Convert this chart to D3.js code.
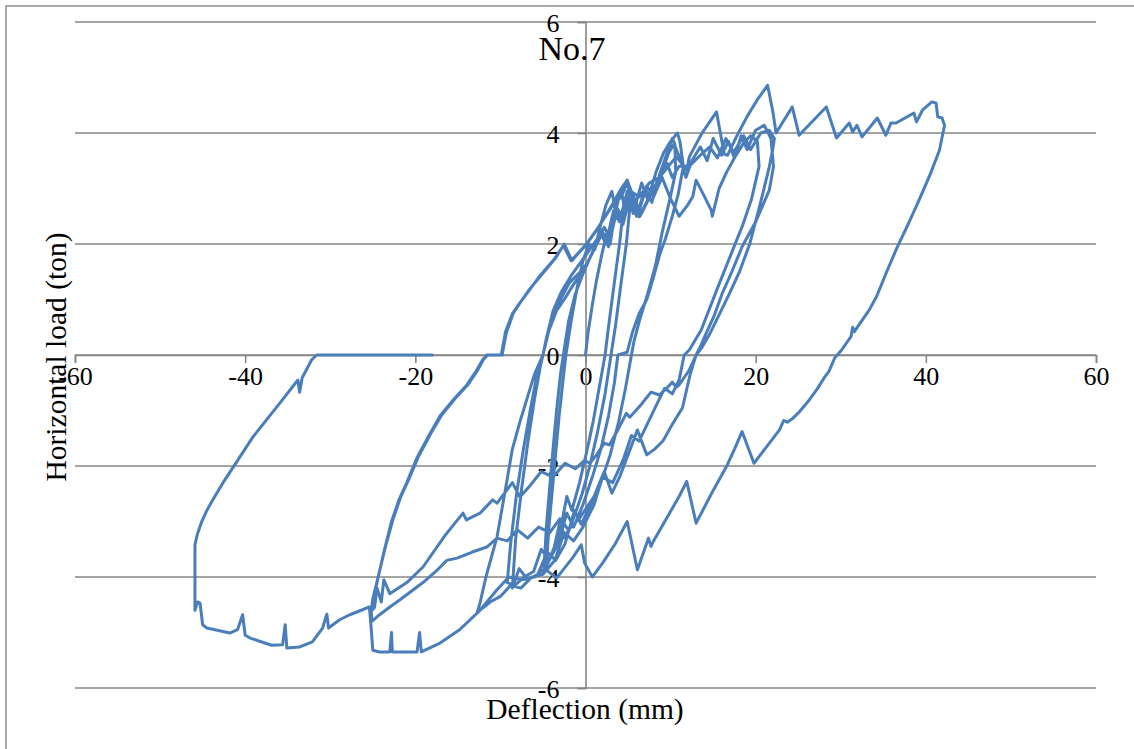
<!DOCTYPE html>
<html>
<head>
<meta charset="utf-8">
<script src="https://cdn.jsdelivr.net/npm/d3@7"></script>
<style>
  html, body { margin: 0; padding: 0; background: #ffffff; }
  svg { display: block; }
</style>
</head>
<body>
<svg id="chart" width="1134" height="749"></svg>
<script>
// ---- chart texts & ticks ----
const chartTitle = "No.7";
const xTitle = "Deflection (mm)";
const yTitle = "Horizontal load (ton)";
const xTicks = [-60, -40, -20, 0, 20, 40, 60];
const yTicks = [-6, -4, -2, 0, 2, 4, 6];

// ---- measured load path, [deflection mm, load ton], in loading order ----
const cycle1 = [ // about +/-5 mm
  [0,0],[0.3,0.4],[0.8,0.9],[1.3,1.35],[1.9,1.8],[2.5,2.2],[2.9,2.0],[3.4,2.5],[4.2,3.0],[4.5,2.7],
  [4.0,2.0],[3.3,1.2],[2.7,0.5],[2.3,0],[1.6,-0.6],[0.9,-1.2],[0.2,-1.7],[-0.7,-2.3],[-1.6,-2.8],
  [-2.2,-2.55],[-3.0,-3.2],[-3.9,-3.55],[-4.6,-3.8],[-4.3,-3.1],[-3.7,-2.1],[-3.1,-1.1],[-2.6,-0.4],
  [-2.3,0],[-1.7,0.6],[-1.0,1.2],[-0.3,1.7],[0.4,2.0],[1.1,1.9],[1.7,2.3],[2.4,2.7],[3.1,2.95],
  [3.5,2.6],[4.1,2.95],[4.9,3.15],[5.3,2.8],[4.8,2.0],[4.1,1.2],[3.5,0.5],[3.0,0],[2.3,-0.7],
  [1.4,-1.4],[0.5,-2.0],[-0.4,-2.5],[-1.3,-2.9],[-2.4,-3.3],[-3.0,-3.0],[-3.8,-3.55],[-4.9,-3.9],
  [-4.6,-3.1],[-4.0,-2.0],[-3.4,-1.0],[-2.9,-0.3],[-2.6,0]
];
const cycle2 = [ // about +/-10 mm
  [-2.0,0.6],[-1.2,1.1],[-0.2,1.5],[0.8,1.85],[1.8,2.2],[2.4,2.0],[3.3,2.6],[4.0,2.4],[4.9,2.95],
  [5.6,2.55],[6.6,3.1],[7.3,2.8],[8.3,3.3],[9.2,3.65],[10.0,3.85],[10.8,4.0],[11.1,3.85],[11.5,3.4],
  [10.9,2.9],[10.2,2.5],[9.4,2.1],[8.7,1.8],[7.9,1.35],[7.2,1.0],[6.3,0.75],[5.5,0.4],[4.9,0.05],
  [3.8,0],[3.4,-0.5],[2.7,-1.1],[1.8,-1.7],[0.8,-2.2],[-0.3,-2.7],[-1.4,-3.1],[-2.2,-2.85],
  [-3.2,-3.4],[-4.3,-3.7],[-5.2,-3.5],[-6.1,-3.9],[-7.2,-4.0],[-8.3,-4.15],[-9.2,-4.1],[-8.8,-3.4],
  [-8.1,-2.5],[-7.3,-1.7],[-6.5,-1.0],[-5.7,-0.35],[-5.0,0],[-4.2,0.5],[-3.1,0.95],[-1.9,1.3],
  [-0.6,1.5],[0.2,1.65],[1.0,1.9],[2.0,2.2],[2.7,1.95],[3.6,2.55],[4.4,2.35],[5.3,2.9],[6.0,2.5],
  [7.0,3.0],[7.8,2.75],[8.7,3.25],[9.5,3.6],[10.2,3.9],[10.5,3.8],[10.6,3.3],[9.9,2.8],[9.0,2.2],
  [8.2,1.6],[7.3,1.1],[6.4,0.65],[5.7,0.25],[5.4,0],[4.7,-0.6],[3.9,-1.2],[2.9,-1.8],[1.8,-2.3],
  [0.6,-2.7],[-0.5,-3.05],[-1.3,-2.8],[-2.4,-3.4],[-3.5,-3.7],[-4.5,-3.55],[-5.6,-3.95],
  [-6.8,-4.05],[-7.8,-3.85],[-8.6,-4.2],[-8.2,-3.3],[-7.5,-2.4],[-6.8,-1.6],[-6.0,-0.8],
  [-5.3,-0.2],[-5.0,0]
];
const cycle3 = [ // +20 / -13 mm
  [-4.4,0.4],[-3.4,0.8],[-2.5,1.0],[-1.5,1.25],[0.1,1.6],[0.8,1.85],[1.9,2.25],[2.6,2.05],
  [3.6,2.65],[4.4,2.4],[5.4,2.9],[6.2,2.55],[7.2,3.05],[8.0,2.85],[9.0,3.2],[9.9,2.85],[11.0,2.5],
  [12.0,2.7],[12.6,2.85],[13.0,3.15],[14.0,2.85],[14.8,2.6],[14.9,2.5],[15.7,3.0],[16.6,3.3],
  [17.5,3.55],[18.5,3.8],[19.4,3.95],[20.2,3.85],[20.4,3.4],[19.5,2.8],[18.5,2.35],[17.3,1.89],
  [15.5,1.2],[13.6,0.45],[12.2,0.09],[11.6,0],[11.0,-0.45],[10.2,-0.7],[9.3,-0.6],[8.5,-0.85],
  [7.4,-1.2],[6.3,-1.55],[5.4,-1.45],[4.4,-1.9],[3.2,-2.3],[2.0,-2.2],[1.0,-2.7],[-0.3,-3.1],
  [-1.4,-3.35],[-2.5,-3.2],[-3.6,-3.7],[-5.0,-3.95],[-6.3,-4.0],[-7.6,-4.2],[-8.8,-4.15],
  [-10.0,-4.35],[-11.2,-4.45],[-12.0,-4.55],[-12.7,-4.62],[-12.4,-4.47],[-11.7,-4.0],
  [-10.9,-3.55],[-10.4,-3.28],[-9.5,-2.5],[-8.6,-1.7],[-7.7,-1.2],[-6.9,-0.8],[-6.0,-0.35],[-5.0,0]
];
const cycle4 = [ // +22 / -25 mm, first
  [-4.6,0.3],[-3.8,0.8],[-2.8,1.15],[-1.6,1.45],[-0.2,1.75],[1.2,2.05],[2.2,2.3],[2.8,2.15],
  [3.7,2.65],[4.3,2.5],[5.3,2.95],[6.3,2.85],[7.5,3.1],[8.7,3.2],[9.6,3.45],[10.2,3.2],[11.0,3.4],
  [12.2,3.4],[13.5,3.6],[14.6,3.75],[15.5,3.55],[16.5,3.9],[17.4,3.65],[18.6,3.95],[19.4,3.7],
  [20.6,4.0],[21.6,4.05],[22.2,3.9],[22.0,3.7],[21.6,3.39],[20.5,2.7],[19.3,2.0],[18.1,1.5],
  [16.9,1.1],[15.4,0.63],[14.5,0.35],[13.7,0.14],[13.0,0],[12.3,-0.35],[11.4,-0.95],[10.2,-1.25],
  [9.1,-1.55],[8.1,-1.7],[7.2,-1.8],[6.1,-1.35],[5.0,-1.8],[4.0,-2.2],[3.1,-2.49],[2.2,-2.1],
  [1.0,-2.55],[-0.7,-2.94],[-2.0,-3.15],[-3.0,-2.95],[-4.2,-3.2],[-5.5,-3.1],[-6.8,-3.3],
  [-8.0,-3.15],[-9.2,-3.35],[-10.4,-3.3],[-11.6,-3.46],[-13.3,-3.55],[-15.1,-3.66],[-16.3,-3.7],
  [-17.6,-3.9],[-19.1,-4.1],[-21.8,-4.41],[-23.0,-4.54],[-24.2,-4.68],[-25.1,-4.8],[-25.2,-4.6],
  [-24.5,-4.1],[-23.7,-3.55],[-22.8,-3.0],[-21.9,-2.6],[-21.0,-2.3],[-19.8,-1.85],[-18.4,-1.45],
  [-17.1,-1.1],[-15.5,-0.8],[-14.0,-0.55],[-12.9,-0.3],[-12.1,-0.09],[-11.6,0],[-9.8,0]
];
const cycle5 = [ // +22 / -25 mm, second
  [-9.3,0.4],[-8.5,0.75],[-7.7,0.94],[-6.5,1.2],[-5.4,1.4],[-3.5,1.75],[-2.5,2.0],[-1.6,1.7],
  [0.1,2.0],[1.5,2.3],[3.2,2.7],[4.2,2.85],[4.9,3.1],[6.0,2.74],[6.3,2.49],[7.9,2.97],[8.7,3.2],
  [9.8,3.65],[10.4,3.8],[11.1,3.55],[11.8,3.2],[12.5,3.5],[13.5,3.75],[14.3,3.5],[15.0,3.9],
  [16.0,3.6],[16.8,3.85],[17.5,3.55],[18.3,3.95],[19.0,3.7],[20.0,4.05],[21.0,4.14],[21.8,3.9],
  [22.1,3.4],[21.6,2.97],[20.0,2.4],[18.4,1.95],[17.2,1.5],[16.1,1.12],[15.1,0.7],[14.2,0.4],
  [13.5,0.15],[13.0,0],[12.2,-0.27],[11.0,-0.54],[10.7,-0.58],[10.2,-0.49],[9.6,-0.59],
  [8.7,-0.72],[7.7,-0.67],[6.5,-0.9],[5.2,-1.12],[4.8,-1.05],[3.8,-1.35],[2.8,-1.62],[2.2,-1.59],
  [1.3,-1.8],[0.5,-1.95],[-0.1,-1.9],[-1.2,-2.05],[-2.4,-1.95],[-3.8,-2.2],[-5.2,-2.1],
  [-6.5,-2.35],[-7.7,-2.56],[-8.6,-2.3],[-10.4,-2.67],[-10.9,-2.61],[-12.4,-2.85],[-14.0,-2.97],
  [-14.4,-2.85],[-16.5,-3.25],[-19.1,-3.82],[-21.0,-4.1],[-23.0,-4.3],[-23.7,-4.05],[-24.0,-4.45],
  [-24.5,-4.2],[-24.8,-4.55],[-25.2,-4.62],[-25.0,-4.4],[-24.3,-3.95],[-23.5,-3.45],[-22.6,-2.95],
  [-21.7,-2.55],[-20.8,-2.25],[-19.6,-1.82],[-18.2,-1.42],[-16.9,-1.08],[-15.3,-0.78],
  [-13.8,-0.53],[-12.7,-0.28],[-12.0,-0.08],[-11.5,0],[-9.9,0]
];
const cycle6 = [ // final, +42 / -46 mm
  [-9.4,0.42],[-8.6,0.74],[-7.8,0.92],[-6.6,1.17],[-5.5,1.4],[-3.6,1.74],[-2.6,1.97],[-1.7,1.7],
  [0.0,1.97],[1.4,2.27],[3.0,2.67],[4.2,3.0],[4.9,3.15],[6.0,2.7],[6.4,2.5],[7.9,2.95],[8.7,3.2],
  [10.0,3.45],[10.7,3.57],[11.9,3.33],[12.2,3.57],[13.0,3.8],[13.7,4.0],[14.6,4.2],[15.4,4.38],
  [16.3,3.62],[16.7,3.6],[17.8,3.95],[19.0,4.3],[20.2,4.6],[21.4,4.86],[22.0,4.4],[22.4,4.0],
  [22.8,4.1],[24.3,4.47],[25.1,3.96],[28.3,4.47],[29.5,3.91],[31.0,4.18],[31.4,4.02],[31.9,4.14],
  [32.5,3.93],[34.3,4.27],[35.3,3.96],[35.9,4.18],[36.5,4.18],[38.6,4.36],[38.9,4.2],[39.6,4.41],
  [40.7,4.56],[41.2,4.54],[41.4,4.29],[41.9,4.27],[42.2,4.14],[41.6,3.69],[40.5,3.25],[39.2,2.79],
  [37.9,2.35],[36.6,1.93],[35.4,1.5],[34.2,1.05],[33.3,0.8],[32.4,0.6],[31.6,0.42],[31.4,0.5],
  [31.2,0.33],[30.6,0.2],[30.1,0.09],[29.6,0],[29.3,-0.05],[28.6,-0.3],[28.1,-0.4],[27.2,-0.62],
  [26.3,-0.81],[25.1,-1.03],[24.3,-1.15],[23.7,-1.21],[23.3,-1.18],[22.8,-1.35],[21.3,-1.65],
  [19.8,-1.95],[18.4,-1.38],[17.5,-1.7],[16.6,-2.0],[14.8,-2.5],[13.0,-3.03],[11.9,-2.28],
  [11.0,-2.55],[9.5,-2.95],[8.0,-3.35],[7.7,-3.45],[7.4,-3.3],[6.1,-3.87],[4.9,-3.0],[3.5,-3.4],
  [2.0,-3.75],[0.8,-4.0],[-0.1,-3.75],[-0.5,-3.42],[-1.5,-3.65],[-3.4,-4.02],[-4.8,-3.85],
  [-6.0,-4.0],[-7.5,-4.05],[-9.0,-4.0],[-10.4,-4.23],[-12.4,-4.6],[-14.8,-4.95],[-17.1,-5.19],
  [-19.3,-5.35],[-19.5,-5.0],[-19.8,-5.35],[-22.7,-5.35],[-22.8,-5.0],[-23.0,-5.35],[-24.2,-5.35],
  [-25.0,-5.32],[-25.2,-4.9],[-25.4,-4.54],[-26.2,-4.59],[-27.7,-4.68],[-28.9,-4.77],[-30.2,-4.92],
  [-30.4,-4.67],[-30.9,-4.92],[-32.1,-5.17],[-33.6,-5.26],[-35.1,-5.28],[-35.3,-4.86],[-35.6,-5.22],
  [-36.9,-5.23],[-39.4,-5.1],[-40.0,-5.05],[-40.3,-4.68],[-40.9,-4.95],[-41.8,-5.01],[-44.5,-4.92],
  [-45.0,-4.86],[-45.3,-4.47],[-45.6,-4.45],[-45.9,-4.6],[-45.9,-3.42],[-45.6,-3.22],[-45.1,-3.0],
  [-44.5,-2.8],[-43.8,-2.61],[-42.6,-2.3],[-41.4,-2.02],[-39.1,-1.48],[-36.3,-0.94],[-33.8,-0.45],
  [-33.6,-0.67],[-33.3,-0.41],[-32.2,-0.09],[-31.6,0],[-21.8,0],[-18.0,0]
];

const loadPath = [].concat(cycle1, cycle2, cycle3, cycle4, cycle5, cycle6);

// ---- drawing ----
const serif = "'Liberation Serif', 'Times New Roman', 'DejaVu Serif', serif";
const svg = d3.select("#chart");
const W = 1134, H = 749;
svg.append("rect").attr("width", W).attr("height", H).attr("fill", "#fff");
svg.append("rect").attr("x", 6).attr("y", 6).attr("width", W + 20).attr("height", H + 20)
  .attr("fill", "none").attr("stroke", "#8c8c8c").attr("stroke-width", 1.5);

const x = d3.scaleLinear().domain([-60, 60]).range([75, 1096]);
const y = d3.scaleLinear().domain([-6, 6]).range([688, 22]);
const gridColor = "#868686";

// horizontal gridlines
svg.append("g").selectAll("line").data(yTicks).join("line")
  .attr("x1", x(-60)).attr("x2", x(60))
  .attr("y1", d => y(d)).attr("y2", d => y(d))
  .attr("stroke", gridColor).attr("stroke-width", 1.6);

const fmt = d => d < 0 ? "-" + Math.abs(d) : String(d);

// x axis (at load = 0)
const xAxis = d3.axisBottom(x).tickValues(xTicks).tickSize(8).tickPadding(10).tickFormat(fmt);
const gx = svg.append("g").attr("transform", `translate(0,${y(0)})`).call(xAxis);
gx.select(".domain").attr("stroke", gridColor).attr("stroke-width", 1.6);
gx.selectAll(".tick line").attr("stroke", gridColor).attr("stroke-width", 1.6);
gx.selectAll(".tick text").style("font-family", serif).style("font-size", "26px")
  .attr("fill", "#000").attr("dy", "0.45em");

// y axis (at deflection = 0)
const yAxis = d3.axisLeft(y).tickValues(yTicks).tickSize(8).tickPadding(18).tickFormat(fmt);
const gy = svg.append("g").attr("transform", `translate(${x(0)},0)`).call(yAxis);
gy.select(".domain").attr("stroke", gridColor).attr("stroke-width", 1.6);
gy.selectAll(".tick line").attr("stroke", gridColor).attr("stroke-width", 1.6);
gy.selectAll(".tick text").style("font-family", serif).style("font-size", "26px")
  .attr("fill", "#000").attr("dy", "0.38em");

// data line
const line = d3.line().x(d => x(d[0])).y(d => y(d[1]));
svg.append("path").datum(loadPath)
  .attr("d", line)
  .attr("fill", "none")
  .attr("stroke", "#4a7ebb")
  .attr("stroke-width", 3)
  .attr("stroke-linejoin", "round")
  .attr("stroke-linecap", "round");

// titles
svg.append("text").attr("x", 572).attr("y", 60).attr("text-anchor", "middle")
  .style("font-family", serif).style("font-size", "34px").text(chartTitle);
svg.append("text").attr("x", 585).attr("y", 719).attr("text-anchor", "middle")
  .style("font-family", serif).style("font-size", "29.5px").text(xTitle);
svg.append("text").attr("transform", "translate(66,357) rotate(-90)").attr("text-anchor", "middle")
  .style("font-family", serif).style("font-size", "29.5px").text(yTitle);
</script>
</body>
</html>
